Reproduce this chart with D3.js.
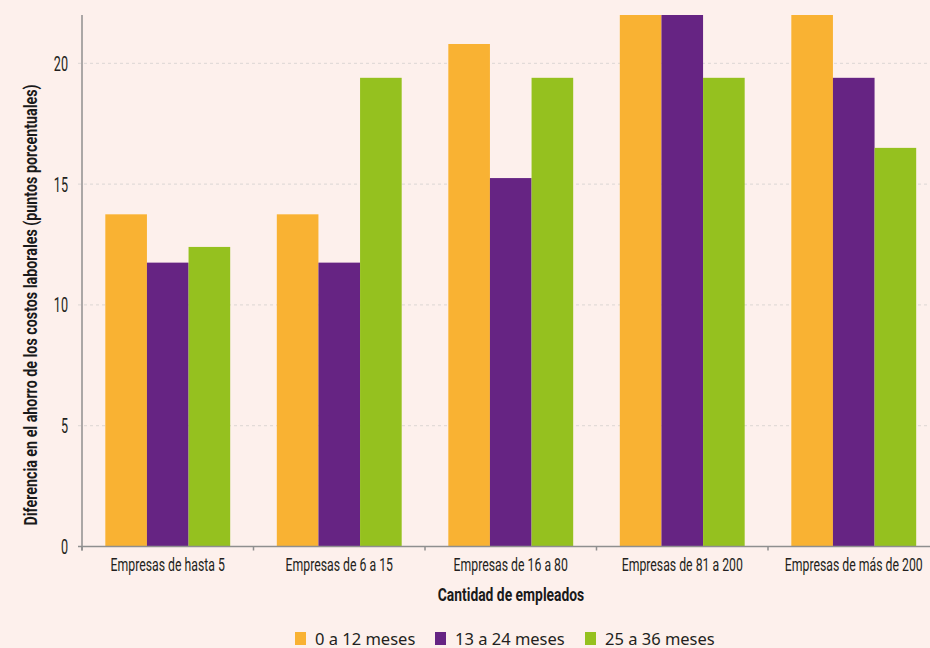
<!DOCTYPE html>
<html lang="es">
<head>
<meta charset="utf-8">
<script src="https://cdn.jsdelivr.net/npm/d3@7"></script>
<style>
  html, body { margin: 0; padding: 0; background: #fdf0ec; }
  svg { display: block; }
</style>
</head>
<body>
<svg id="chart" width="930" height="648"></svg>
<script>
// Company size groups
const categories = [
  "Empresas de hasta 5",
  "Empresas de 6 a 15",
  "Empresas de 16 a 80",
  "Empresas de 81 a 200",
  "Empresas de más de 200"
];

// Series (time since hiring)
const seriesNames = ["0 a 12 meses", "13 a 24 meses", "25 a 36 meses"];

// Difference in labour-cost savings, percentage points
const values0a12 = [13.75, 13.75, 20.8, 22, 22];
const values13a24 = [11.75, 11.75, 15.25, 22, 19.4];
const values25a36 = [12.4, 19.4, 19.4, 19.4, 16.5];

const yTicks = [0, 5, 10, 15, 20];
const colors = ["#f9b233", "#662483", "#95c11f"];

const seriesValues = [values0a12, values13a24, values25a36];
const rows = categories.map((c, i) => ({
  category: c,
  values: seriesNames.map((s, j) => ({ series: s, value: seriesValues[j][i] }))
}));

const svg = d3.select("#chart");
const W = 930, H = 648;
const plotLeft = 82, baseline = 546.5, plotTop = 15;
const condFont = "Roboto, 'DejaVu Sans Condensed', sans-serif";
const ink = "#231f20";

// Narrow text: glyphs squeezed horizontally inside a positioned group
function narrowText(parent, opts) {
  const g = parent.append("g")
    .attr("transform", `translate(${opts.x},${opts.y})` + (opts.rotate ? ` rotate(${opts.rotate})` : "") + ` scale(${opts.sx},1)`);
  return g.append("text")
    .attr("text-anchor", opts.anchor || "middle")
    .attr("dy", opts.dy || 0)
    .attr("font-family", condFont)
    .attr("font-size", opts.size)
    .attr("font-weight", opts.weight || "normal")
    .attr("fill", opts.fill || ink)
    .text(opts.text);
}

const x0 = d3.scaleBand()
  .domain(categories)
  .range([plotLeft, plotLeft + 5 * 171.5])
  .padding(0);

const x1 = d3.scaleBand()
  .domain(seriesNames)
  .range([0, x0.bandwidth()])
  .paddingInner(0)
  .paddingOuter(0.56);

const y = d3.scaleLinear().domain([0, 22]).range([baseline, plotTop]);
const color = d3.scaleOrdinal().domain(seriesNames).range(colors);

// Horizontal dashed grid lines
svg.append("g")
  .selectAll("line")
  .data(yTicks.filter(t => t > 0))
  .join("line")
  .attr("x1", plotLeft - 4)
  .attr("x2", W)
  .attr("y1", d => y(d))
  .attr("y2", d => y(d))
  .attr("stroke", "#dcd6d4")
  .attr("stroke-width", 1)
  .attr("stroke-dasharray", "3,3");

// Bars
svg.append("defs").append("clipPath").attr("id", "plot-clip")
  .append("rect").attr("x", plotLeft).attr("y", plotTop).attr("width", W - plotLeft).attr("height", baseline - plotTop);

svg.append("g")
  .attr("clip-path", "url(#plot-clip)")
  .selectAll("g")
  .data(rows)
  .join("g")
  .attr("transform", d => `translate(${x0(d.category)},0)`)
  .selectAll("rect")
  .data(d => d.values)
  .join("rect")
  .attr("x", d => x1(d.series))
  .attr("width", x1.bandwidth())
  .attr("y", d => y(d.value))
  .attr("height", d => baseline - y(d.value))
  .attr("fill", d => color(d.series));

// Y axis: tick labels placed by the scale, narrow glyphs
const yAxisG = svg.append("g");
yAxisG.append("line")
  .attr("x1", plotLeft).attr("x2", plotLeft)
  .attr("y1", plotTop).attr("y2", baseline + 4)
  .attr("stroke", "#8f8f8f").attr("stroke-width", 1.5);
yTicks.forEach(t => narrowText(yAxisG, {
  x: plotLeft - 14, y: y(t), sx: 0.6, size: 21, anchor: "end", dy: "0.36em", text: String(t)
}));

// X axis with ticks at group boundaries
const xAxisG = svg.append("g");
xAxisG.append("line")
  .attr("x1", plotLeft - 4).attr("x2", W)
  .attr("y1", baseline).attr("y2", baseline)
  .attr("stroke", "#8f8f8f").attr("stroke-width", 1.5);
xAxisG.selectAll("line.tk")
  .data(categories)
  .join("line")
  .attr("class", "tk")
  .attr("x1", d => x0(d)).attr("x2", d => x0(d))
  .attr("y1", baseline).attr("y2", baseline + 4)
  .attr("stroke", "#8f8f8f").attr("stroke-width", 1.5);
categories.forEach(c => narrowText(xAxisG, {
  x: x0(c) + x0.bandwidth() / 2, y: baseline + 24.2, sx: 0.663, size: 18.5, text: c
}));

// Axis titles
narrowText(svg, {
  x: 511, y: 601, sx: 0.73, size: 19, weight: "bold", fill: "#1a1a1a",
  text: "Cantidad de empleados"
});
narrowText(svg, {
  x: 36.5, y: 305, rotate: -90, sx: 0.773, size: 18.5, weight: "bold", fill: "#1a1a1a",
  text: "Diferencia en el ahorro de los costos laborales (puntos porcentuales)"
});

// Legend
const legendX = [295, 435, 585];
const legend = svg.append("g")
  .selectAll("g")
  .data(seriesNames)
  .join("g")
  .attr("transform", (d, i) => `translate(${legendX[i]},632)`);
legend.append("rect")
  .attr("width", 11).attr("height", 13)
  .attr("fill", d => color(d));
legend.append("text")
  .attr("x", 20).attr("y", 12.5)
  .attr("font-family", "'Noto Sans', Lato, sans-serif")
  .attr("font-size", 16.5)
  .attr("fill", ink)
  .text(d => d);
</script>
</body>
</html>
